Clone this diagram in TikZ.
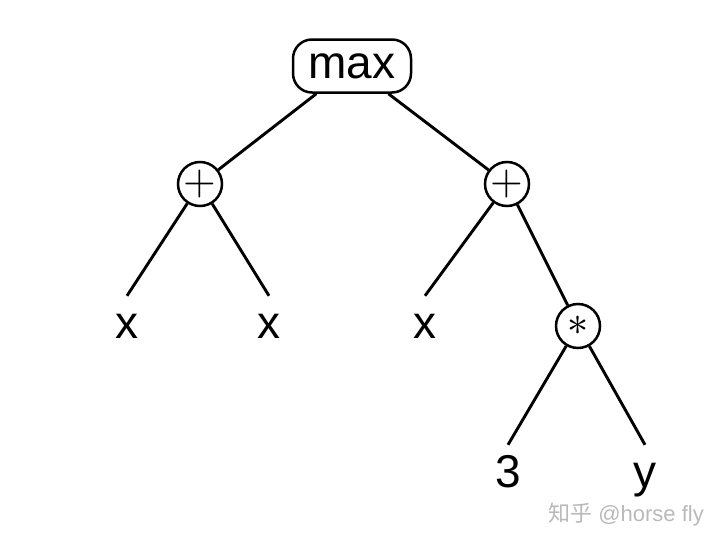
\documentclass[tikz,border=0pt]{standalone}
\usepackage{fontspec}
\setmainfont{Liberation Sans}
\newfontfamily\cjk{Noto Sans CJK SC}
\newfontfamily\lmmath{Latin Modern Math}
\usetikzlibrary{shapes.geometric}
\definecolor{wm}{RGB}{185,185,185}
\tikzset{
  edge/.style={line width=2.9pt},
  opnode/.style={circle, draw, line width=2.5pt, minimum size=44pt, inner sep=0pt, font=\lmmath\fontsize{42}{42}\selectfont},
  rootnode/.style={draw, line width=2.5pt, rounded corners=19pt, minimum width=118pt, minimum height=53pt, inner sep=0pt, font=\fontsize{46}{46}\selectfont},
  leaf/.style={inner sep=12pt, text height=30pt, text depth=0pt, anchor=base, font=\fontsize{46}{46}\selectfont},
}
\begin{document}
\begin{tikzpicture}[x=1pt,y=-1pt]
\useasboundingbox (0,0) rectangle (723,546);
\node[rootnode] (max) at (352,66) {max};
\node[opnode] (pl) at (200,184) {+};
\node[opnode] (pr) at (507,184) {+};
\node[opnode] (mul) at (578,326) {∗};
\node[leaf] (x1) at (127,338) {x};
\node[leaf] (x2) at (269,338) {x};
\node[leaf] (x3) at (425,338) {x};
\node[leaf] (n3) at (508,487) {3};
\node[leaf] (ny) at (645,487) {y};
\draw[edge] (max) -- (pl);
\draw[edge] (max) -- (pr);
\draw[edge] (pl) -- (x1.north);
\draw[edge] (pl) -- (x2.north);
\draw[edge] (pr) -- (x3.north);
\draw[edge] (pr) -- (mul);
\draw[edge] (mul) -- (n3.north);
\draw[edge] (mul) -- (ny.north);
\node[text=wm, font=\fontsize{22}{22}\selectfont] (wmark) at (626,515) {{\cjk 知乎} @horse fly};
\end{tikzpicture}
\end{document}
